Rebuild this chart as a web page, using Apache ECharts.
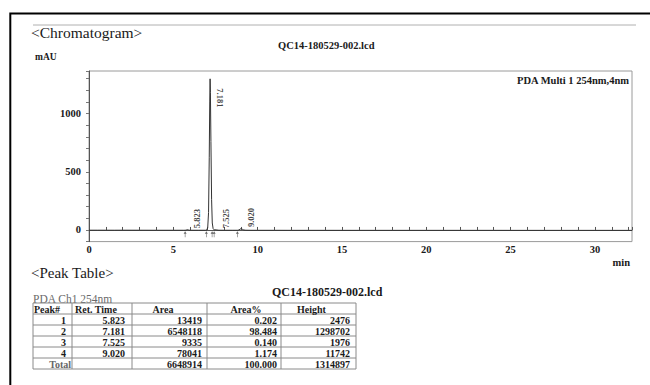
<!DOCTYPE html>
<html>
<head>
<meta charset="utf-8">
<script src="https://cdn.jsdelivr.net/npm/echarts@6/dist/echarts.min.js"></script>
<style>
  html, body { margin: 0; padding: 0; background: #fff; }
  #chart { width: 650px; height: 385px; }
</style>
</head>
<body>
<div id="chart"></div>
<script>
// Detector trace, PDA channel at 254 nm: time (min) and absorbance (mAU)
const traceTime = [
  0.00, 0.50, 1.00, 1.50, 2.00, 3.00, 4.00, 5.00, 5.60, 5.70, 5.76, 5.823, 5.88, 5.95,
  6.10, 6.50, 6.90, 6.98, 7.04, 7.09, 7.13, 7.16, 7.181, 7.20, 7.23, 7.27, 7.31, 7.36,
  7.42, 7.47, 7.525, 7.58, 7.70, 8.00, 8.50, 8.80, 8.88, 8.95, 9.020, 9.09, 9.18, 9.30,
  9.60, 10.0, 11.0, 12.0, 14.0, 16.0, 18.0, 20.0, 22.0, 24.0, 26.0, 28.0, 30.0, 32.2
];
const traceMAU = [
  -2.0, -2.0, -2.1, -2.2, -2.0, -2.3, -2.5, -2.5, -2.6, -2.4, -1.0, 2.476, 0.5, -1.8,
  -2.5, -2.6, -2.6, -1.0, 20, 150, 620, 1100, 1298.702, 1180, 760, 260, 60, 12,
  1.0, 0.5, 1.976, 0.0, -2.2, -2.6, -2.7, -2.7, 0.0, 6.0, 11.742, 6.0, 0.0, -2.3,
  -2.8, -3.0, -3.0, -3.2, -3.2, -3.3, -3.3, -3.4, -3.4, -3.4, -3.5, -3.5, -3.5, -3.5
];

// Peak table
const peakNo   = ['1', '2', '3', '4'];
const retTimes = [5.823, 7.181, 7.525, 9.020];
const areas    = [13419, 6548118, 9335, 78041];
const areaPct  = [0.202, 98.484, 0.140, 1.174];
const heights  = [2476, 1298702, 1976, 11742];   // µAU
const totalArea = 6648914;
const totalPct = 100.000;
const totalHeight = 1314897;

// Integration start/end marks (min)
const peakBounds = [5.70, 6.96, 7.30, 7.42, 8.80];

// Axis tick labels
const xLabelValues = [0, 5, 10, 15, 20, 25, 30];
const yLabelValues = [0, 500, 1000];

const fileName = 'QC14-180529-002.lcd';
const channelName = 'PDA Multi 1 254nm,4nm';

const SERIF = '"Liberation Serif", "DejaVu Serif", serif';
const INK = '#1a1a1a';
const RULE = '#8a8a8a';

const chart = echarts.init(document.getElementById('chart'), null, { renderer: 'svg' });

// ---- peak table drawn as graphic elements ----
const colX = [33, 72, 132, 207, 281, 356];
const rowH = 11;
const tableTop = 303;
const nRows = 6;
const table = [];
for (let r = 0; r <= nRows; r++) {
  const y = tableTop + r * rowH;
  table.push({ type: 'line', shape: { x1: colX[0], y1: y, x2: colX[5], y2: y },
    style: { stroke: RULE, lineWidth: 1 }, silent: true });
}
colX.forEach(x => {
  table.push({ type: 'line', shape: { x1: x, y1: tableTop, x2: x, y2: tableTop + nRows * rowH },
    style: { stroke: RULE, lineWidth: 1 }, silent: true });
});
function cell(text, x, row, align, opts) {
  const y = tableTop + row * rowH + rowH / 2 + 0.5;
  const o = opts || {};
  return { type: 'text', x: x, y: y, silent: true,
    style: { text: text, font: (o.weight || 'bold') + ' 10px ' + SERIF, fill: o.fill || INK,
      align: align, textAlign: align, verticalAlign: 'middle', textVerticalAlign: 'middle' } };
}
table.push(cell('Peak#', 34, 0, 'left'));
table.push(cell('Ret. Time', 75, 0, 'left'));
table.push(cell('Area', 163, 0, 'center'));
table.push(cell('Area%', 246, 0, 'center'));
table.push(cell('Height', 297, 0, 'left'));
peakNo.forEach((p, i) => {
  const row = i + 1;
  table.push(cell(p, 66, row, 'right'));
  table.push(cell(retTimes[i].toFixed(3), 125, row, 'right'));
  table.push(cell(String(areas[i]), 202, row, 'right'));
  table.push(cell(areaPct[i].toFixed(3), 277, row, 'right'));
  table.push(cell(String(heights[i]), 350, row, 'right'));
});
table.push(cell('Total', 71, 5, 'right', { fill: '#666' }));
table.push(cell(String(totalArea), 202, 5, 'right'));
table.push(cell(totalPct.toFixed(3), 277, 5, 'right'));
table.push(cell(String(totalHeight), 350, 5, 'right'));

// ---- peak apex labels ----
const labelFont = { fontFamily: SERIF, fontSize: 8.5, fontWeight: 'bold', color: '#111' };
const apexData = retTimes.map((t, i) => {
  const tall = heights[i] > 100000;
  return {
    value: [t, heights[i] / 1000],
    label: Object.assign({
      show: true,
      formatter: t.toFixed(3),
      rotate: tall ? -90 : 90,
      position: tall ? [9.5, 9.5] : [10, -1.5],
      align: 'left',
      verticalAlign: 'middle'
    }, labelFont)
  };
});

const option = {
  animation: false,
  backgroundColor: '#fff',
  title: [
    { text: '<Chromatogram>', left: 31, top: 24, padding: 0,
      textStyle: { fontFamily: SERIF, fontSize: 15.5, fontWeight: 'normal', color: INK } },
    { text: fileName, left: 278, top: 40, padding: 0,
      textStyle: { fontFamily: SERIF, fontSize: 10.5, fontWeight: 'bold', color: INK } },
    { text: '<Peak Table>', left: 31, top: 265, padding: 0,
      textStyle: { fontFamily: SERIF, fontSize: 15, fontWeight: 'normal', color: INK } },
    { text: fileName, left: 272, top: 286, padding: 0,
      textStyle: { fontFamily: SERIF, fontSize: 12, fontWeight: 'bold', color: INK } }
  ],
  legend: {
    left: 512, top: 75, padding: 0, itemWidth: 0, itemHeight: 0, icon: 'none',
    selectedMode: false,
    data: [channelName],
    textStyle: { fontFamily: SERIF, fontSize: 10.5, fontWeight: 'bold', color: INK }
  },
  grid: {
    left: 89, right: 18, top: 71, bottom: 143.4,
    show: true, borderColor: '#9a9a9a', borderWidth: 1
  },
  xAxis: {
    type: 'value', min: 0, max: 32.2, interval: 1,
    name: 'min', nameLocation: 'end', nameGap: -2,
    nameTextStyle: { fontFamily: SERIF, fontSize: 10.5, fontWeight: 'bold', color: INK,
      align: 'right', verticalAlign: 'top', padding: [27, 0, 0, 0] },
    axisLine: { show: true, lineStyle: { color: '#555', width: 1 } },
    axisTick: { show: true, inside: true, length: 3, lineStyle: { color: '#555' } },
    axisLabel: {
      margin: 2, fontFamily: SERIF, fontSize: 10.5, fontWeight: 'bold', color: INK,
      formatter: v => (xLabelValues.indexOf(v) >= 0 ? String(v) : '')
    },
    splitLine: { show: false }
  },
  yAxis: {
    type: 'value', min: -100, max: 1366, interval: 100,
    axisLine: { show: true, lineStyle: { color: '#555', width: 1 } },
    axisTick: { show: true, inside: false, length: 3, lineStyle: { color: '#777' } },
    axisLabel: {
      margin: 8, fontFamily: SERIF, fontSize: 10.5, fontWeight: 'bold', color: INK,
      formatter: v => (yLabelValues.indexOf(v) >= 0 ? String(v) : '')
    },
    splitLine: { show: false }
  },
  series: [
    {
      name: channelName,
      type: 'line',
      data: traceTime.map((t, i) => [t, traceMAU[i]]),
      showSymbol: false,
      symbol: 'none',
      lineStyle: { color: '#333', width: 1 },
      itemStyle: { color: '#333' },
      z: 3
    },
    {
      name: 'apex',
      type: 'scatter',
      data: apexData,
      symbolSize: 0,
      itemStyle: { color: INK },
      z: 4
    },
    {
      name: 'bounds',
      type: 'scatter',
      data: peakBounds.map(t => [t, -2.5]),
      symbol: 'path://M5,0 L10,6 L6,6 L6,14 L4,14 L4,6 L0,6 Z',
      symbolSize: [3, 6],
      symbolOffset: [0, 4],
      itemStyle: { color: '#444' },
      z: 4
    }
  ],
  graphic: [
    // outer page border
    { type: 'rect', silent: true, shape: { x: 10.3, y: 13.5, width: 700, height: 400 },
      style: { fill: 'none', stroke: '#000', lineWidth: 2 } },
    // header rule
    { type: 'line', silent: true, shape: { x1: 33, y1: 25, x2: 636, y2: 25 },
      style: { stroke: '#b0b0b0', lineWidth: 1 } },
    { type: 'text', x: 35, y: 57, silent: true,
      style: { text: 'mAU', font: 'bold 9.5px ' + SERIF, fill: INK,
        verticalAlign: 'middle', textVerticalAlign: 'middle' } },
    { type: 'text', x: 33, y: 298.5, silent: true,
      style: { text: 'PDA Ch1 254nm', font: '11.5px ' + SERIF, fill: '#6a6a6a',
        verticalAlign: 'middle', textVerticalAlign: 'middle' } }
  ].concat(table)
};

chart.setOption(option);
</script>
</body>
</html>
